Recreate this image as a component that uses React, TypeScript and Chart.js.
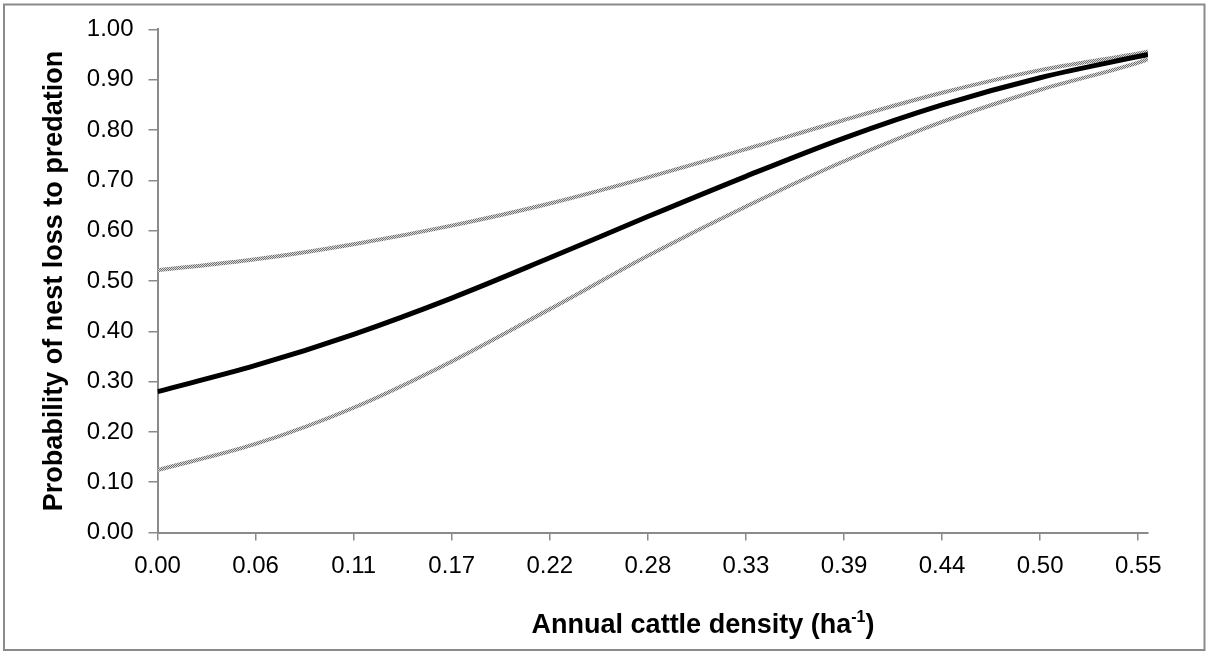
import React, { useEffect, useRef } from "react";
import { Chart, registerables } from "chart.js";

Chart.register(...registerables);

// Annual cattle density (ha^-1)
const X_VALUES = [0, 0.0553, 0.1106, 0.1659, 0.2212, 0.2765, 0.3318, 0.3871, 0.4424, 0.4977, 0.553, 0.5585];
// Probability of nest loss to predation
const ESTIMATE = [0.280, 0.332, 0.394, 0.466, 0.546, 0.628, 0.708, 0.784, 0.850, 0.904, 0.946, 0.950];
const UPPER_CI = [0.521, 0.543, 0.573, 0.610, 0.654, 0.706, 0.762, 0.820, 0.874, 0.919, 0.952, 0.956];
const LOWER_CI = [0.124, 0.176, 0.248, 0.340, 0.444, 0.550, 0.648, 0.738, 0.816, 0.880, 0.934, 0.941];

const X_TICK_VALUES = [0, 0.0553, 0.1106, 0.1659, 0.2212, 0.2765, 0.3318, 0.3871, 0.4424, 0.4977, 0.553];
const X_TICK_LABELS = ["0.00", "0.06", "0.11", "0.17", "0.22", "0.28", "0.33", "0.39", "0.44", "0.50", "0.55"];

const X_TITLE_MAIN = "Annual cattle density (ha";
const X_TITLE_SUP = "-1";
const X_TITLE_END = ")";
const Y_TITLE = "Probability of nest loss to predation";

const FONT = "'Liberation Sans', Arial, sans-serif";

function makePattern(): CanvasPattern | string {
  const c = document.createElement("canvas");
  c.width = 2;
  c.height = 2;
  const g = c.getContext("2d");
  if (!g) return "#a0a0a0";
  g.fillStyle = "#dadada";
  g.fillRect(0, 0, 2, 2);
  g.fillStyle = "#707070";
  g.fillRect(0, 0, 1, 1);
  g.fillRect(1, 1, 1, 1);
  const p = g.createPattern(c, "repeat");
  return p || "#a0a0a0";
}

export default function App() {
  const ref = useRef<HTMLCanvasElement | null>(null);

  useEffect(() => {
    if (!ref.current) return;
    const pattern = makePattern();
    const pts = (arr: number[]) => arr.map((y, i) => ({ x: X_VALUES[i], y }));

    const frame = {
      id: "frame",
      afterDraw(chart: any) {
        const ctx = chart.ctx;
        ctx.save();
        ctx.strokeStyle = "#8a8a8a";
        ctx.lineWidth = 2;
        ctx.strokeRect(4, 4.5, 1200.5, 645.5);
        // x-axis title with superscript
        ctx.fillStyle = "#000";
        ctx.textBaseline = "alphabetic";
        ctx.textAlign = "left";
        const big = `bold 27px ${FONT}`;
        const small = `bold 16px ${FONT}`;
        ctx.font = big;
        const w1 = ctx.measureText(X_TITLE_MAIN).width;
        ctx.font = small;
        const w2 = ctx.measureText(X_TITLE_SUP).width;
        ctx.font = big;
        const w3 = ctx.measureText(X_TITLE_END).width;
        const total = w1 + w2 + w3;
        let x = 703 - total / 2;
        const base = 633;
        ctx.font = big;
        ctx.fillText(X_TITLE_MAIN, x, base);
        x += w1;
        ctx.font = small;
        ctx.fillText(X_TITLE_SUP, x, base - 11);
        x += w2;
        ctx.font = big;
        ctx.fillText(X_TITLE_END, x, base);
        ctx.restore();
      },
    };

    const chart = new Chart(ref.current, {
      type: "line",
      data: {
        datasets: [
          {
            label: "Estimate",
            data: pts(ESTIMATE),
            borderColor: "#000",
            borderWidth: 5,
            pointRadius: 0,
            cubicInterpolationMode: "monotone",
            fill: false,
          },
          {
            label: "Upper 95% CI",
            data: pts(UPPER_CI),
            borderColor: pattern as any,
            borderWidth: 4,
            pointRadius: 0,
            cubicInterpolationMode: "monotone",
            fill: false,
          },
          {
            label: "Lower 95% CI",
            data: pts(LOWER_CI),
            borderColor: pattern as any,
            borderWidth: 4,
            pointRadius: 0,
            cubicInterpolationMode: "monotone",
            fill: false,
          },
        ],
      },
      options: {
        animation: false,
        responsive: false,
        maintainAspectRatio: false,
        layout: { padding: { left: 0, top: 25, right: 60, bottom: 0 } },
        plugins: { legend: { display: false }, tooltip: { enabled: false } },
        scales: {
          x: {
            type: "linear",
            min: 0,
            max: X_VALUES[X_VALUES.length - 1],
            afterBuildTicks: (scale: any) => {
              scale.ticks = X_TICK_VALUES.map((v) => ({ value: v }));
            },
            afterFit: (scale: any) => {
              scale.height = 119.5;
            },
            ticks: {
              autoSkip: false,
              maxRotation: 0,
              padding: 11,
              color: "#000",
              font: { family: FONT, size: 24 },
              callback: (_v: any, i: number) => X_TICK_LABELS[i],
            },
            grid: {
              drawOnChartArea: false,
              drawTicks: true,
              tickLength: 8,
              tickColor: "#8a8a8a",
              lineWidth: 1.5,
            },
            border: { display: true, color: "#8a8a8a", width: 2 },
          },
          y: {
            type: "linear",
            min: 0,
            max: 1,
            afterFit: (scale: any) => {
              scale.width = 157.5;
            },
            ticks: {
              stepSize: 0.1,
              padding: 15,
              color: "#000",
              font: { family: FONT, size: 24 },
              callback: (v: any) => Number(v).toFixed(2),
            },
            grid: {
              drawOnChartArea: false,
              drawTicks: true,
              tickLength: 9,
              tickColor: "#8a8a8a",
              lineWidth: 1.5,
            },
            border: { display: true, color: "#8a8a8a", width: 2 },
            title: {
              display: true,
              text: Y_TITLE,
              color: "#000",
              font: { family: FONT, size: 27, weight: "bold" },
              padding: { top: 38, bottom: 0 },
            },
          },
        },
      },
      plugins: [frame],
    });
    return () => chart.destroy();
  }, []);

  return (
    <div style={{ position: "absolute", left: 0, top: 0, width: 1208, height: 652, background: "#fff" }}>
      <canvas ref={ref} width={1208} height={652} style={{ display: "block", width: 1208, height: 652 }} />
    </div>
  );
}
